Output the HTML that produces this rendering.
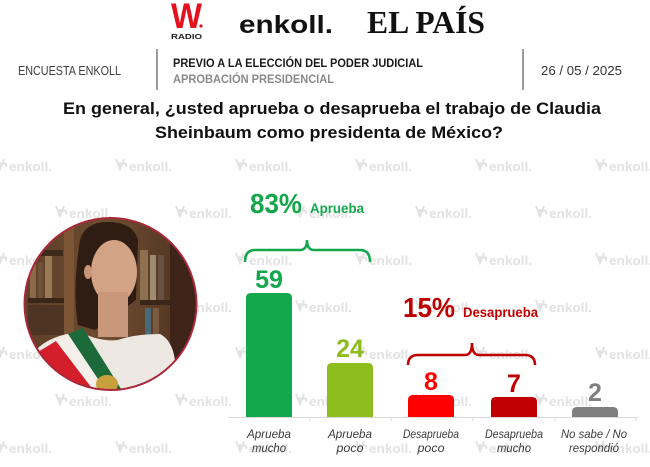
<!DOCTYPE html>
<html><head><meta charset="utf-8"><style>
html,body{margin:0;padding:0;background:#fff;}
svg{display:block;}
text{font-family:"Liberation Sans",sans-serif;}
.cat{font-style:italic;font-size:12px;fill:#3b3b3b;text-anchor:middle;}
.val{font-weight:bold;font-size:25px;text-anchor:middle;}
</style></head><body>
<svg width="650" height="467" viewBox="0 0 650 467" xmlns="http://www.w3.org/2000/svg">
<defs>
<g id="wml"><path d="M1,-7 L5,3 L9,-7 M5,3 L5,-4 M8,-2 Q12,-4 11,1" fill="none" stroke="#e2e2e2" stroke-width="2"/><text x="14" y="5" font-family="Liberation Sans, sans-serif" font-weight="bold" font-size="13" fill="#e2e2e2" textLength="43" lengthAdjust="spacingAndGlyphs">enkoll.</text></g>
<clipPath id="cc"><circle cx="110.5" cy="304" r="86"/></clipPath>
<linearGradient id="bg" x1="0" y1="0" x2="1" y2="0"><stop offset="0" stop-color="#5e4028"/><stop offset="0.5" stop-color="#6e4c30"/><stop offset="1" stop-color="#4a2e1e"/></linearGradient>
</defs>
<rect width="650" height="467" fill="#fff"/>

<!-- watermarks -->
<g>
<use href="#wml" x="-5" y="166"/><use href="#wml" x="115" y="166"/><use href="#wml" x="235" y="166"/><use href="#wml" x="355" y="166"/><use href="#wml" x="475" y="166"/><use href="#wml" x="595" y="166"/>
<use href="#wml" x="55" y="213"/><use href="#wml" x="175" y="213"/><use href="#wml" x="295" y="213"/><use href="#wml" x="415" y="213"/><use href="#wml" x="535" y="213"/>
<use href="#wml" x="-5" y="260"/><use href="#wml" x="115" y="260"/><use href="#wml" x="235" y="260"/><use href="#wml" x="355" y="260"/><use href="#wml" x="475" y="260"/><use href="#wml" x="595" y="260"/>
<use href="#wml" x="55" y="307"/><use href="#wml" x="175" y="307"/><use href="#wml" x="295" y="307"/><use href="#wml" x="415" y="307"/><use href="#wml" x="535" y="307"/>
<use href="#wml" x="-5" y="354"/><use href="#wml" x="115" y="354"/><use href="#wml" x="235" y="354"/><use href="#wml" x="355" y="354"/><use href="#wml" x="475" y="354"/><use href="#wml" x="595" y="354"/>
<use href="#wml" x="55" y="401"/><use href="#wml" x="175" y="401"/><use href="#wml" x="295" y="401"/><use href="#wml" x="415" y="401"/><use href="#wml" x="535" y="401"/>
<use href="#wml" x="-5" y="448"/><use href="#wml" x="115" y="448"/><use href="#wml" x="235" y="448"/><use href="#wml" x="355" y="448"/><use href="#wml" x="475" y="448"/><use href="#wml" x="595" y="448"/>
</g>

<!-- logos -->
<text x="171" y="28" font-size="35" font-weight="bold" fill="#e3101e" textLength="31" lengthAdjust="spacingAndGlyphs">W</text>
<circle cx="201" cy="26" r="1.6" fill="#e3101e"/>
<text x="171" y="39" font-size="7.5" font-weight="bold" fill="#222" textLength="31" lengthAdjust="spacingAndGlyphs">RADIO</text>
<text x="239" y="33" font-size="25" font-weight="bold" fill="#111" textLength="94" lengthAdjust="spacingAndGlyphs">enkoll.</text>
<text x="367" y="33" font-size="32" font-weight="bold" fill="#111" style="font-family:'Liberation Serif',serif" textLength="118" lengthAdjust="spacingAndGlyphs">EL PAÍS</text>

<!-- subheader -->
<text x="18" y="75" font-size="13" fill="#404040" textLength="103" lengthAdjust="spacingAndGlyphs">ENCUESTA ENKOLL</text>
<line x1="157" y1="49" x2="157" y2="90" stroke="#7a7a7a" stroke-width="1.5"/>
<text x="173" y="67" font-size="12" font-weight="bold" fill="#1a1a1a" textLength="250" lengthAdjust="spacingAndGlyphs">PREVIO A LA ELECCIÓN DEL PODER JUDICIAL</text>
<text x="173" y="83" font-size="12" font-weight="bold" fill="#8a8a8a" textLength="161" lengthAdjust="spacingAndGlyphs">APROBACIÓN PRESIDENCIAL</text>
<line x1="523" y1="49" x2="523" y2="90" stroke="#7a7a7a" stroke-width="1.5"/>
<text x="541" y="75" font-size="13" fill="#333" textLength="81" lengthAdjust="spacingAndGlyphs">26 / 05 / 2025</text>

<!-- title -->
<text x="63" y="114" font-size="17" font-weight="bold" fill="#111" textLength="538" lengthAdjust="spacingAndGlyphs">En general, ¿usted aprueba o desaprueba el trabajo de Claudia</text>
<text x="155" y="138" font-size="17" font-weight="bold" fill="#111" textLength="348" lengthAdjust="spacingAndGlyphs">Sheinbaum como presidenta de México?</text>

<!-- photo -->
<g clip-path="url(#cc)">
<rect x="20" y="214" width="182" height="182" fill="url(#bg)"/>
<rect x="28" y="250" width="35" height="6" fill="#3e2a1c"/>
<rect x="30" y="258" width="6" height="40" fill="#8a6a48"/>
<rect x="38" y="262" width="5" height="36" fill="#6f5238"/>
<rect x="45" y="256" width="7" height="42" fill="#9a7a55"/>
<rect x="28" y="298" width="40" height="5" fill="#3a2618"/>
<rect x="28" y="305" width="40" height="30" fill="#4e3422"/>
<rect x="64" y="220" width="10" height="120" fill="#7c5634"/>
<rect x="140" y="250" width="8" height="50" fill="#8c7050"/>
<rect x="150" y="255" width="6" height="45" fill="#a08a70"/>
<rect x="158" y="255" width="6" height="45" fill="#6a5040"/>
<rect x="140" y="300" width="50" height="5" fill="#3a2618"/>
<rect x="145" y="308" width="6" height="35" fill="#4a6a78"/>
<rect x="153" y="308" width="6" height="35" fill="#7a5a40"/>
<rect x="170" y="220" width="30" height="170" fill="#3e2418"/>
<path d="M80,240 Q85,222 108,222 Q133,222 138,240 L136,300 L95,330 L78,325 Q72,290 80,240 Z" fill="#2f1d13"/>
<ellipse cx="114" cy="272" rx="23" ry="32" fill="#d3a385"/>
<ellipse cx="88" cy="272" rx="4" ry="7" fill="#c99578"/>
<rect x="98" y="292" width="30" height="45" fill="#c9977a"/>
<path d="M36,350 Q50,335 80,332 Q100,342 118,340 Q135,334 160,334 Q172,340 175,360 L180,400 L30,400 Z" fill="#eee8e3"/>
<path d="M38,352 L56,341 L101,400 L82,400 Z" fill="#d41f2a"/>
<path d="M56,341 L68,334 L112,400 L101,400 Z" fill="#f4efe9"/>
<path d="M68,334 L83,328 L128,400 L112,400 Z" fill="#1c6a3a"/>
<ellipse cx="107" cy="384" rx="11" ry="9" fill="#c8a03c"/>
</g>
<circle cx="110.5" cy="304" r="86" fill="none" stroke="#a8283a" stroke-width="2"/>

<!-- annotations -->
<text x="250" y="213" font-size="28" font-weight="bold" fill="#14a64b" textLength="52" lengthAdjust="spacingAndGlyphs">83%</text>
<text x="310" y="213" font-size="14" font-weight="bold" fill="#14a64b" textLength="54" lengthAdjust="spacingAndGlyphs">Aprueba</text>
<path d="M245,262 Q245,250 255,250 L300,250 Q307,250 307,240 Q307,250 314,250 L360,250 Q370,250 370,262" fill="none" stroke="#14a64b" stroke-width="2.5"/>

<text x="403" y="317" font-size="28" font-weight="bold" fill="#c00000" textLength="52" lengthAdjust="spacingAndGlyphs">15%</text>
<text x="463" y="317" font-size="14" font-weight="bold" fill="#c00000" textLength="75" lengthAdjust="spacingAndGlyphs">Desaprueba</text>
<path d="M408,365 Q408,355 418,355 L465,355 Q472,355 472,343 Q472,355 479,355 L525,355 Q535,355 535,365" fill="none" stroke="#c00000" stroke-width="2.5"/>

<!-- axis -->
<line x1="228" y1="417.5" x2="638" y2="417.5" stroke="#d9d9d9" stroke-width="1"/>
<g stroke="#d9d9d9" stroke-width="1">
<line x1="310" y1="417" x2="310" y2="421"/><line x1="391" y1="417" x2="391" y2="421"/><line x1="473" y1="417" x2="473" y2="421"/><line x1="555" y1="417" x2="555" y2="421"/><line x1="636" y1="417" x2="636" y2="421"/>
</g>

<!-- bars -->
<path d="M246,417 V298 Q246,293 251,293 H287 Q292,293 292,298 V417 Z" fill="#12a84b"/>
<path d="M327,417 V368 Q327,363 332,363 H368 Q373,363 373,368 V417 Z" fill="#8cbd1c"/>
<path d="M408,417 V400 Q408,395 413,395 H449 Q454,395 454,400 V417 Z" fill="#ff0000"/>
<path d="M491,417 V402 Q491,397 496,397 H532 Q537,397 537,402 V417 Z" fill="#c00000"/>
<path d="M572,417 V412 Q572,407 577,407 H613 Q618,407 618,412 V417 Z" fill="#7f7f7f"/>

<text class="val" x="269" y="288" fill="#12a84b">59</text>
<text class="val" x="350" y="357" fill="#8cbd1c">24</text>
<text class="val" x="431" y="390" fill="#ff0000">8</text>
<text class="val" x="514" y="392" fill="#c00000">7</text>
<text class="val" x="595" y="401" fill="#7f7f7f">2</text>

<!-- categories -->
<text class="cat" x="269" y="438" textLength="44" lengthAdjust="spacingAndGlyphs">Aprueba</text>
<text class="cat" x="269" y="452" textLength="34" lengthAdjust="spacingAndGlyphs">mucho</text>
<text class="cat" x="350" y="438" textLength="44" lengthAdjust="spacingAndGlyphs">Aprueba</text>
<text class="cat" x="350" y="452" textLength="27" lengthAdjust="spacingAndGlyphs">poco</text>
<text class="cat" x="431" y="438" textLength="56" lengthAdjust="spacingAndGlyphs">Desaprueba</text>
<text class="cat" x="431" y="452" textLength="27" lengthAdjust="spacingAndGlyphs">poco</text>
<text class="cat" x="514" y="438" textLength="58" lengthAdjust="spacingAndGlyphs">Desaprueba</text>
<text class="cat" x="514" y="452" textLength="34" lengthAdjust="spacingAndGlyphs">mucho</text>
<text class="cat" x="594" y="438" textLength="66" lengthAdjust="spacingAndGlyphs">No sabe / No</text>
<text class="cat" x="594" y="452" textLength="50" lengthAdjust="spacingAndGlyphs">respondió</text>
</svg>
</body></html>
